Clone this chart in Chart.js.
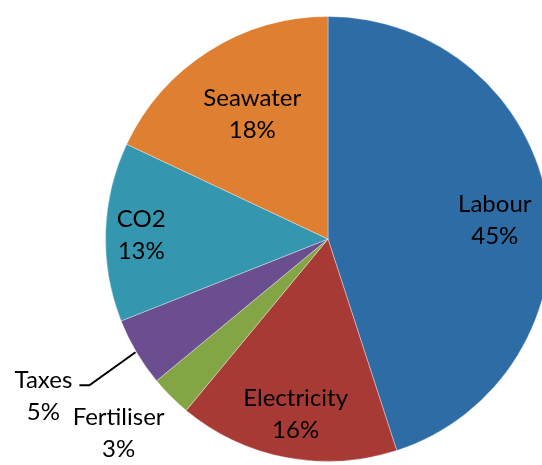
<!DOCTYPE html>
<html>
<head>
<meta charset="utf-8">
<script src="https://cdn.jsdelivr.net/npm/chart.js@4.4.0/dist/chart.umd.min.js"></script>
<style>
html,body{margin:0;padding:0;background:#fff;overflow:hidden;width:542px;height:465px;}
canvas{display:block;}
</style>
</head>
<body>
<canvas id="c" width="560" height="465" style="width:560px;height:465px"></canvas>
<script>
const categories = ["Labour", "Electricity", "Fertiliser", "Taxes", "CO2", "Seawater"];
const values = [45, 16, 3, 5, 13, 18];
const percentLabels = ["45%", "16%", "3%", "5%", "13%", "18%"];
const colors = ["#2E6CA5", "#A83A36", "#84A546", "#6B4E8F", "#3497AF", "#DE7F31"];

// label placement style: radial factor of the outer radius, plus pixel nudges
const labelPlace = [
  {f: 0.75, dx: 2, dy: 7},
  {f: 0.80, dx: 1, dy: 0},
  {f: 1.28, dx: -8, dy: -7},
  {f: 1.46, dx: -5, dy: -8, leader: true},
  {f: 0.84, dx: 0, dy: 2},
  {f: 0.66, dx: 3, dy: -1}
];

const labelPlugin = {
  id: 'sliceLabels',
  afterDatasetsDraw(chart) {
    const ctx = chart.ctx;
    const meta = chart.getDatasetMeta(0);
    ctx.save();
    ctx.font = '24px Lato';
    ctx.fillStyle = '#000';
    ctx.textAlign = 'center';
    ctx.textBaseline = 'middle';
    meta.data.forEach((arc, i) => {
      const p = arc.getProps(['x','y','startAngle','endAngle','outerRadius'], true);
      const mid = (p.startAngle + p.endAngle) / 2;
      const pl = labelPlace[i];
      const r = p.outerRadius * pl.f;
      const cx = p.x + Math.cos(mid) * r + pl.dx;
      const cy = p.y + Math.sin(mid) * r + pl.dy;
      if (pl.leader) {
        const ex = p.x + Math.cos(mid) * p.outerRadius;
        const ey = p.y + Math.sin(mid) * p.outerRadius;
        ctx.strokeStyle = '#000';
        ctx.lineWidth = 2;
        ctx.beginPath();
        ctx.moveTo(ex - 1, ey);
        ctx.lineTo(cx + 46, cy - 11);
        ctx.lineTo(cx + 36, cy - 11);
        ctx.stroke();
      }
      ctx.fillText(categories[i], cx, cy - 16);
      ctx.fillText(percentLabels[i], cx, cy + 16);
    });
    ctx.restore();
  }
};

new Chart(document.getElementById('c'), {
  type: 'pie',
  data: {
    labels: categories,
    datasets: [{
      data: values,
      backgroundColor: colors,
      borderColor: 'rgba(255,255,255,0.35)',
      borderWidth: 1
    }]
  },
  options: {
    responsive: false,
    animation: false,
    layout: {padding: {left: 105, right: 9, top: 16, bottom: 3}},
    plugins: {legend: {display: false}, tooltip: {enabled: false}}
  },
  plugins: [labelPlugin]
});
</script>
</body>
</html>
